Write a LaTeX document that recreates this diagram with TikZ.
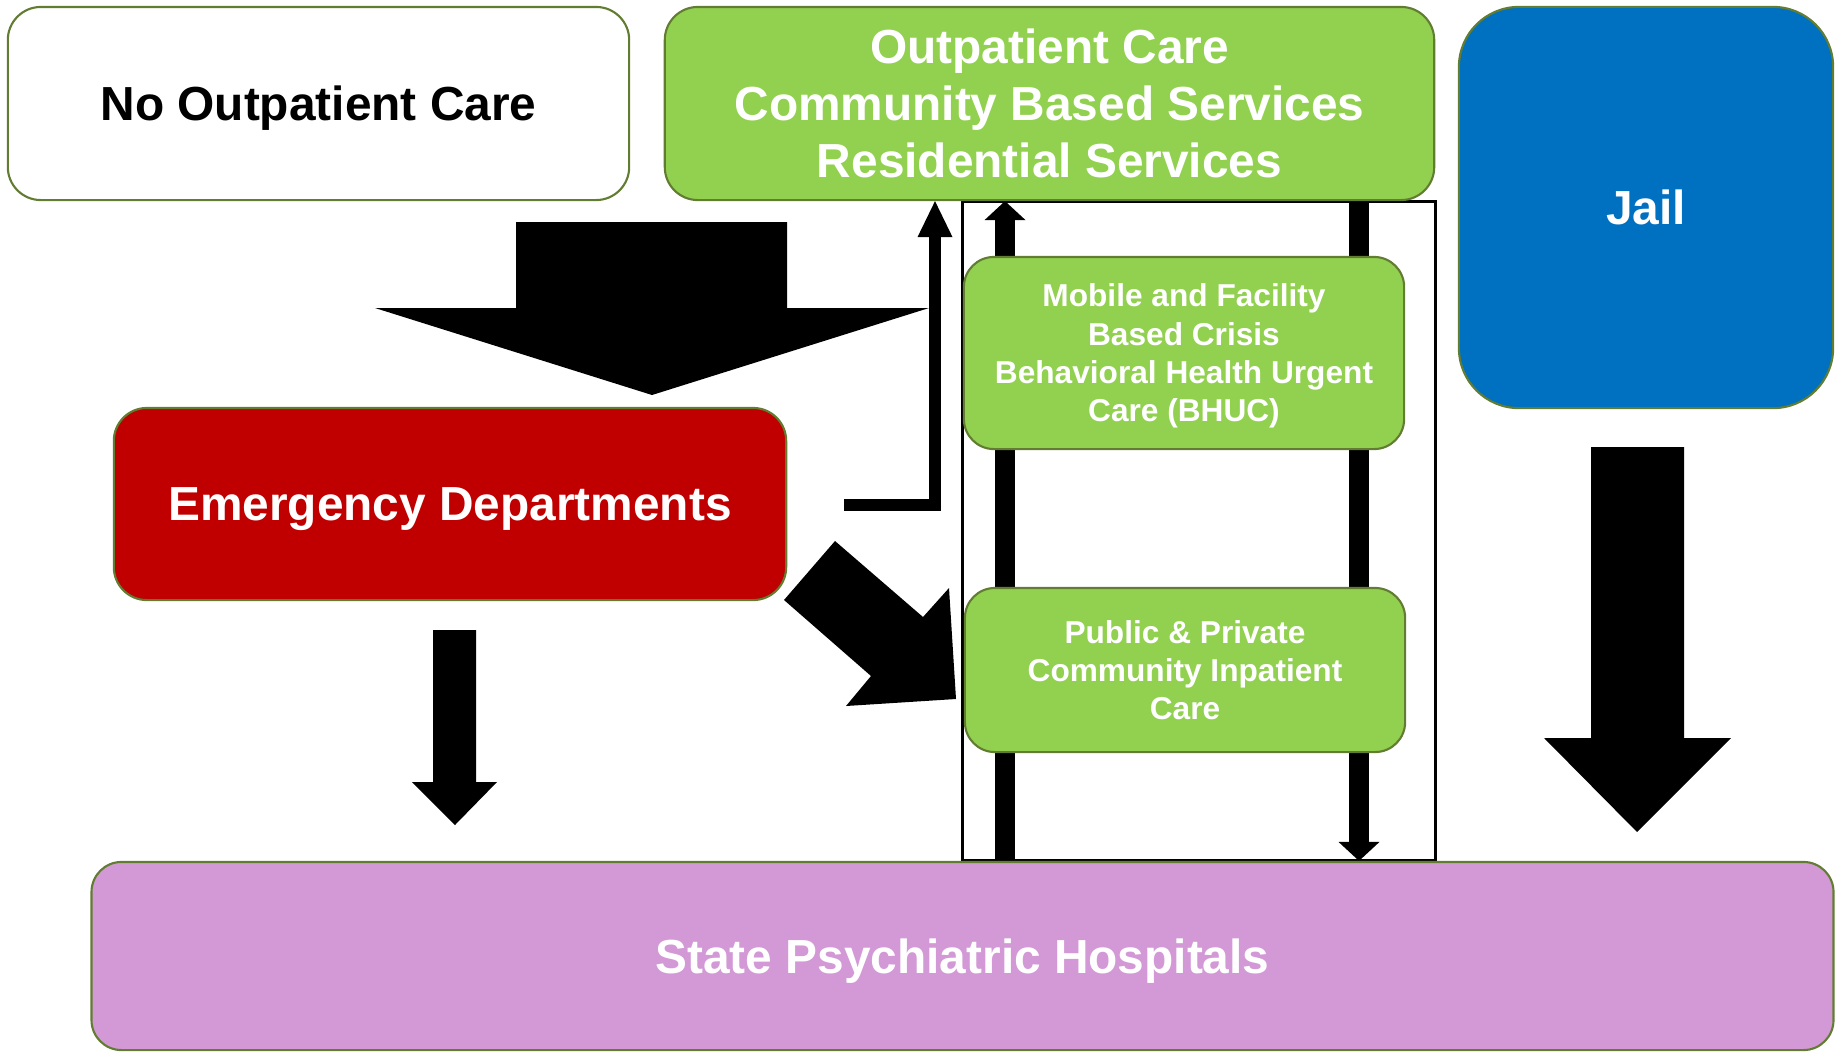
\documentclass[tikz,border=0pt]{standalone}
\usepackage{fontspec}
\setmainfont{Liberation Sans}
\usepackage{xcolor}
\usepackage{tikz}
\usetikzlibrary{positioning, shapes, arrows.meta, backgrounds}

\definecolor{boxline}{RGB}{98,125,50}
\definecolor{svcgreen}{RGB}{146,208,80}
\definecolor{edred}{RGB}{192,0,0}
\definecolor{jailblue}{RGB}{0,112,192}
\definecolor{statepink}{RGB}{210,153,214}

\begin{document}
\begin{tikzpicture}[
    x=0.01cm, y=-0.01cm,
    box/.style={rectangle, rounded corners=0.33cm, draw=boxline, line width=0.6pt, align=center, inner sep=0pt, text=white, text depth=0pt, font=\bfseries\fontsize{13.6}{16.2}\selectfont},
    crisis/.style={box, fill=svcgreen, minimum width=4.4cm, rounded corners=0.3cm, font=\bfseries\fontsize{9}{10.9}\selectfont},
    blockarrow/.style={fill=black},
    arrow/.style={line width=0.2cm, -{Triangle[length=0.19cm, width=0.41cm, line width=0pt]}},
    elbow/.style={line width=0.12cm, -{Triangle[length=0.36cm, width=0.35cm, line width=0pt]}},
    frame/.style={draw=black, line width=0.9pt}
]
\useasboundingbox (0,0) rectangle (1843,1051);

% Settings of care
\node[box, fill=white, text=black, minimum width=6.21cm, minimum height=1.93cm] (noout) at (318.5,103.5) {No Outpatient Care};
\node[box, fill=svcgreen, minimum width=7.69cm, minimum height=1.93cm] (outpt) at (1049.5,103.5) {Outpatient Care\\Community Based Services\\Residential Services};
\node[box, fill=jailblue, rounded corners=0.6cm, minimum width=3.74cm, minimum height=4.01cm] (jail) at (1646,207.5) {Jail};
\node[box, fill=edred, minimum width=6.72cm, minimum height=1.92cm] (ed) at (450,504) {Emergency Departments};
\node[box, fill=statepink, rounded corners=0.3cm, minimum width=17.41cm, minimum height=1.88cm] (state) at (962.5,956) {State Psychiatric Hospitals};
\node[crisis, minimum height=1.92cm] (mobile) at (1184,353) {Mobile and Facility\\Based Crisis\\Behavioral Health Urgent\\Care (BHUC)};
\node[crisis, minimum height=1.64cm] (public) at (1185,670) {Public \& Private\\Community Inpatient\\Care};

% Connectors behind the boxes
\coordinate (upx) at (1005,0);
\coordinate (downx) at (1359,0);
\coordinate (edout) at (844,505);
\coordinate (edup) at (935,0);
\begin{scope}[on background layer]
\draw[frame] (mobile.west |- outpt.south) rectangle (state.north -| outpt.east);
\draw[arrow] (state.north -| upx) -- (outpt.south -| upx);
\draw[arrow] (outpt.south -| downx) -- (state.north -| downx);
\draw[elbow] (edout) -| (outpt.south -| edup);
\end{scope}

% Block arrows
\fill[blockarrow] (516,222) -- (787,222) -- (787,308) -- (929,308) -- (652,395) -- (375,308) -- (516,308) -- cycle;
\fill[blockarrow] (433,630) -- (476,630) -- (476,782) -- (497,782) -- (455,825) -- (412,782) -- (433,782) -- cycle;
\fill[blockarrow] (835,541) -- (923,617) -- (949,588) -- (956,699) -- (846,706) -- (871,676) -- (784,600) -- cycle;
\fill[blockarrow] (1591,447) -- (1684,447) -- (1684,738) -- (1731,738) -- (1637,832) -- (1544,738) -- (1591,738) -- cycle;

\end{tikzpicture}
\end{document}
